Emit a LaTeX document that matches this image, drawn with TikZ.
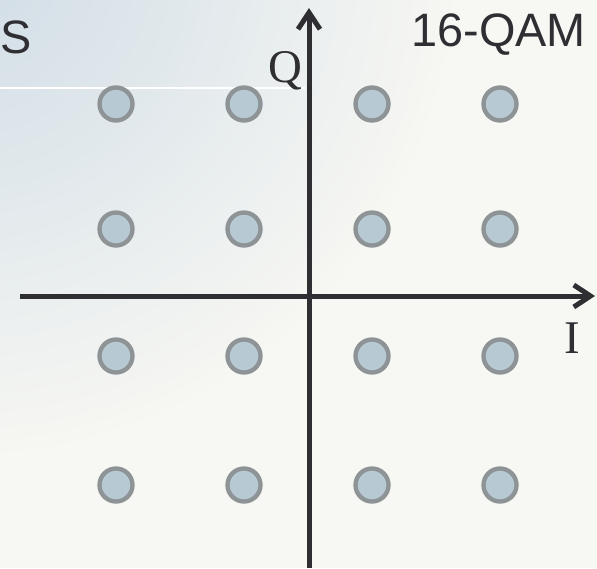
\documentclass[tikz,border=0pt]{standalone}
\usepackage{fontspec}
\setmainfont{Liberation Serif}
\setsansfont{Liberation Sans}
\usetikzlibrary{arrows.meta}

\definecolor{axisgray}{HTML}{2E2E33}
\definecolor{ringgray}{HTML}{8E9396}
\definecolor{dotblue}{HTML}{B7C9D3}
\definecolor{skyblue}{HTML}{CFDCE6}
\definecolor{cloudwhite}{HTML}{F7F7F3}

\begin{document}
\begin{tikzpicture}[x=0.3mm, y=-0.3mm,
  qamdot/.style={circle, draw=ringgray, fill=dotblue, line width=1.3mm,
    minimum size=9.9mm, inner sep=0pt},
  axis/.style={draw=axisgray, line width=1.5mm,
    -{Straight Barb[length=5mm, width=6.6mm]}},
  axislabel/.style={font=\fontsize{40}{40}\selectfont, text=axisgray},
  title/.style={font=\sffamily\fontsize{40}{40}\selectfont, text=axisgray}]
\def\ox{309}
\def\oy{296}

% background
\useasboundingbox (0,0) rectangle (597,568);
\begin{scope}
\clip (0,0) rectangle (597,568);
\fill[cloudwhite] (0,0) rectangle (597,568);
\shade[inner color=skyblue, outer color=cloudwhite] (-40,-40) circle (500);
\end{scope}
\draw[white, line width=0.4mm] (0,88) -- (305,88);

% axes
\coordinate (O) at (\ox,\oy);
\coordinate (Istart) at (20,\oy);
\coordinate (Iend) at (595,\oy);
\coordinate (Qstart) at (\ox,568);
\coordinate (Qend) at (\ox,8);
\draw[axis] (Istart) -- (Iend);
\draw[axis] (Qstart) -- (Qend);

% constellation points
\foreach \i/\x in {1/116, 2/244, 3/372, 4/500}
  \foreach \j/\y in {1/104, 2/229, 3/356, 4/485}
    \node[qamdot] (s\i\j) at (\x,\y) {};

\node[axislabel] (Qlabel) at (285,71) {Q};
\node[axislabel] (Ilabel) at (572,338) {I};
\node[title, anchor=west] (word) at (-4,37) {S};
\node[title, anchor=east] (qam) at (590,35) {16-QAM};
\end{tikzpicture}
\end{document}
